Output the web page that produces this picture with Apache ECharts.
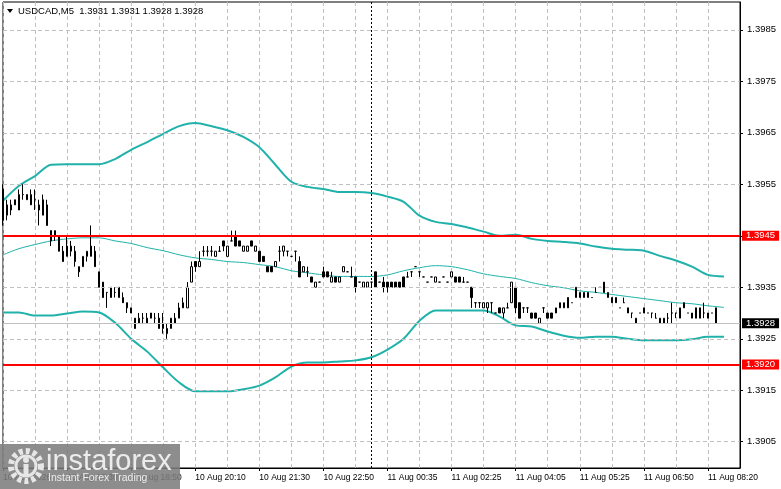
<!DOCTYPE html>
<html>
<head>
<meta charset="utf-8">
<title>USDCAD,M5</title>
<script src="https://cdn.jsdelivr.net/npm/echarts@6/dist/echarts.min.js"></script>
<style>
html, body { margin: 0; padding: 0; background: #fff; }
#chart { width: 781px; height: 489px; }
</style>
</head>
<body>
<div id="chart"></div>
<script>
// USDCAD M5 bars (4 digit quotes)
const openP = [
  1.3954,1.3949,1.3950,1.3951,1.3950,1.3953,1.3953,1.3951,1.3952,1.3951,
  1.3949,1.3951,1.3946,1.3945,1.3945,1.3942,1.3941,1.3942,1.3942,1.3939,
  1.3939,1.3941,1.3941,1.3942,1.3938,1.3936,1.3934,1.3933,1.3934,1.3933,
  1.3933,1.3932,1.3931,1.3929,1.3928,1.3929,1.3928,1.3930,1.3929,1.3929,
  1.3927,1.3927,1.3927,1.3928,1.3929,1.3931,1.3931,1.3936,1.3940,1.3939,
  1.3942,1.3942,1.3942,1.3941,1.3942,1.3944,1.3941,1.3944,1.3945,1.3944,
  1.3942,1.3942,1.3944,1.3942,1.3942,1.3941,1.3939,1.3939,1.3939,1.3942,
  1.3942,1.3942,1.3941,1.3942,1.3940,1.3938,1.3938,1.3937,1.3935,1.3936,
  1.3938,1.3938,1.3936,1.3937,1.3936,1.3938,1.3938,1.3937,1.3937,1.3936,
  1.3935,1.3935,1.3936,1.3938,1.3936,1.3936,1.3936,1.3936,1.3936,1.3936,
  1.3937,1.3937,1.3938,1.3939,1.3938,1.3937,1.3936,1.3937,1.3936,1.3936,
  1.3937,1.3936,1.3937,1.3937,1.3937,1.3936,1.3936,1.3935,1.3932,1.3932,
  1.3931,1.3931,1.3932,1.3930,1.3931,1.3930,1.3931,1.3932,1.3935,1.3932,
  1.3931,1.3931,1.3930,1.3930,1.3928,1.3931,1.3930,1.3930,1.3930,1.3931,
  1.3931,1.3933,1.3932,1.3933,1.3933,1.3933,1.3933,1.3933,1.3934,1.3935,
  1.3936,1.3933,1.3933,1.3933,1.3931,1.3932,1.3931,1.3930,1.3928,1.3930,
  1.3931,1.3930,1.3930,1.3929,1.3928,1.3928,1.3929,1.3930,1.3930,1.3929,
  1.3932,1.3930,1.3929,1.3931,1.3931,1.3930,1.3930,1.3930,1.3931
];
const highP = [
  1.3955,1.3952,1.3952,1.3952,1.3954,1.3955,1.3953,1.3954,1.3954,1.3952,
  1.3953,1.3952,1.3946,1.3946,1.3945,1.3943,1.3945,1.3944,1.3943,1.3939,
  1.3941,1.3942,1.3947,1.3943,1.3938,1.3936,1.3934,1.3935,1.3935,1.3935,
  1.3934,1.3932,1.3931,1.3929,1.3930,1.3930,1.3930,1.3930,1.3930,1.3930,
  1.3930,1.3928,1.3929,1.3930,1.3932,1.3933,1.3936,1.3940,1.3940,1.3942,
  1.3943,1.3943,1.3943,1.3942,1.3943,1.3944,1.3943,1.3946,1.3946,1.3944,
  1.3943,1.3943,1.3944,1.3943,1.3942,1.3941,1.3939,1.3939,1.3940,1.3943,
  1.3943,1.3942,1.3941,1.3942,1.3941,1.3939,1.3939,1.3937,1.3936,1.3936,
  1.3939,1.3938,1.3938,1.3937,1.3937,1.3939,1.3938,1.3939,1.3937,1.3936,
  1.3936,1.3936,1.3936,1.3938,1.3936,1.3937,1.3936,1.3936,1.3936,1.3936,
  1.3937,1.3938,1.3938,1.3939,1.3938,1.3937,1.3936,1.3937,1.3937,1.3936,
  1.3937,1.3936,1.3938,1.3937,1.3937,1.3937,1.3936,1.3935,1.3932,1.3932,
  1.3932,1.3932,1.3932,1.3930,1.3931,1.3931,1.3932,1.3936,1.3935,1.3932,
  1.3931,1.3931,1.3930,1.3930,1.3929,1.3931,1.3930,1.3930,1.3931,1.3932,
  1.3932,1.3933,1.3932,1.3935,1.3934,1.3934,1.3934,1.3933,1.3935,1.3935,
  1.3936,1.3934,1.3933,1.3933,1.3931,1.3933,1.3931,1.3930,1.3929,1.3930,
  1.3931,1.3930,1.3930,1.3930,1.3929,1.3929,1.3930,1.3932,1.3930,1.3931,
  1.3932,1.3930,1.3930,1.3931,1.3931,1.3932,1.3930,1.3930,1.3931
];
const lowP = [
  1.3947,1.3948,1.3949,1.3951,1.3950,1.3952,1.3952,1.3951,1.3950,1.3947,
  1.3949,1.3947,1.3943,1.3944,1.3942,1.3940,1.3941,1.3941,1.3939,1.3937,
  1.3939,1.3940,1.3941,1.3939,1.3935,1.3933,1.3931,1.3933,1.3933,1.3933,
  1.3932,1.3930,1.3930,1.3927,1.3928,1.3928,1.3928,1.3929,1.3928,1.3927,
  1.3926,1.3925,1.3927,1.3928,1.3929,1.3931,1.3931,1.3936,1.3938,1.3939,
  1.3941,1.3941,1.3941,1.3941,1.3942,1.3942,1.3941,1.3944,1.3943,1.3943,
  1.3942,1.3942,1.3943,1.3942,1.3940,1.3940,1.3938,1.3938,1.3939,1.3940,
  1.3941,1.3941,1.3941,1.3940,1.3937,1.3938,1.3937,1.3936,1.3935,1.3936,
  1.3937,1.3937,1.3936,1.3936,1.3936,1.3938,1.3938,1.3937,1.3934,1.3936,
  1.3935,1.3935,1.3935,1.3935,1.3936,1.3934,1.3934,1.3935,1.3935,1.3935,
  1.3935,1.3937,1.3937,1.3939,1.3937,1.3937,1.3936,1.3937,1.3936,1.3936,
  1.3937,1.3936,1.3937,1.3936,1.3936,1.3936,1.3936,1.3931,1.3931,1.3931,
  1.3931,1.3930,1.3930,1.3930,1.3930,1.3929,1.3931,1.3932,1.3930,1.3929,
  1.3930,1.3930,1.3929,1.3929,1.3928,1.3930,1.3929,1.3929,1.3930,1.3931,
  1.3931,1.3931,1.3932,1.3933,1.3933,1.3933,1.3933,1.3933,1.3934,1.3935,
  1.3934,1.3933,1.3932,1.3932,1.3931,1.3932,1.3930,1.3929,1.3928,1.3930,
  1.3930,1.3930,1.3929,1.3929,1.3928,1.3928,1.3928,1.3928,1.3929,1.3929,
  1.3931,1.3930,1.3929,1.3929,1.3929,1.3929,1.3929,1.3930,1.3928
];
const closeP = [
  1.3948,1.3951,1.3951,1.3952,1.3953,1.3953,1.3952,1.3953,1.3952,1.3950,
  1.3952,1.3947,1.3944,1.3946,1.3942,1.3940,1.3943,1.3943,1.3940,1.3938,
  1.3941,1.3942,1.3943,1.3939,1.3935,1.3933,1.3934,1.3935,1.3934,1.3935,
  1.3932,1.3931,1.3930,1.3927,1.3929,1.3929,1.3929,1.3929,1.3929,1.3927,
  1.3928,1.3926,1.3929,1.3929,1.3931,1.3932,1.3935,1.3939,1.3939,1.3940,
  1.3942,1.3942,1.3942,1.3942,1.3942,1.3943,1.3943,1.3944,1.3943,1.3943,
  1.3943,1.3943,1.3943,1.3943,1.3940,1.3940,1.3938,1.3938,1.3940,1.3942,
  1.3943,1.3942,1.3941,1.3942,1.3937,1.3939,1.3938,1.3936,1.3936,1.3936,
  1.3937,1.3937,1.3937,1.3936,1.3937,1.3939,1.3938,1.3937,1.3935,1.3936,
  1.3936,1.3936,1.3936,1.3935,1.3936,1.3935,1.3935,1.3935,1.3935,1.3935,
  1.3935,1.3937,1.3938,1.3939,1.3938,1.3937,1.3936,1.3937,1.3937,1.3936,
  1.3937,1.3936,1.3938,1.3936,1.3936,1.3936,1.3936,1.3933,1.3932,1.3932,
  1.3932,1.3932,1.3932,1.3930,1.3930,1.3931,1.3931,1.3936,1.3931,1.3929,
  1.3931,1.3931,1.3929,1.3929,1.3929,1.3931,1.3929,1.3929,1.3931,1.3932,
  1.3932,1.3931,1.3932,1.3935,1.3934,1.3934,1.3934,1.3933,1.3934,1.3935,
  1.3934,1.3934,1.3932,1.3932,1.3931,1.3932,1.3930,1.3930,1.3929,1.3930,
  1.3930,1.3930,1.3930,1.3929,1.3929,1.3929,1.3929,1.3930,1.3930,1.3931,
  1.3931,1.3930,1.3930,1.3929,1.3929,1.3930,1.3929,1.3930,1.3928
];

// bollinger bands, read every 4th bar
const bandIdx = [0,4,8,12,16,20,24,28,32,36,40,44,48,52,56,60,64,68,72,76,80,84,88,92,
  96,100,104,108,112,116,120,124,128,132,136,140,144,148,152,156,160,164,168,172,176,180];
const upperBand = [1.39518,1.39547,1.39566,1.39588,1.39589,1.39589,1.39589,1.39599,1.39617,1.39632,
  1.39648,1.39663,1.39669,1.39663,1.39655,1.39642,1.39622,1.39588,1.39555,1.39545,
  1.39541,1.39535,1.39535,1.39533,1.39526,1.39516,1.39489,1.39477,1.39473,1.39466,
  1.39458,1.39450,1.39452,1.39444,1.39440,1.39438,1.39435,1.39429,1.39425,1.39423,
  1.39421,1.39411,1.39402,1.39390,1.39374,1.39371];
const middleBand = [1.39413,1.39425,1.39433,1.39440,1.39444,1.39446,1.39446,1.39440,1.39435,1.39427,
  1.39421,1.39413,1.39407,1.39404,1.39400,1.39398,1.39394,1.39390,1.39382,1.39378,
  1.39374,1.39371,1.39371,1.39371,1.39374,1.39382,1.39388,1.39392,1.39390,1.39384,
  1.39376,1.39371,1.39367,1.39359,1.39353,1.39349,1.39343,1.39340,1.39336,1.39332,
  1.39328,1.39324,1.39320,1.39318,1.39314,1.39311];
const lowerBand = [1.39301,1.39301,1.39295,1.39295,1.39299,1.39303,1.39301,1.39281,1.39250,1.39225,
  1.39194,1.39165,1.39148,1.39148,1.39148,1.39152,1.39159,1.39175,1.39196,1.39204,
  1.39204,1.39206,1.39208,1.39214,1.39229,1.39250,1.39285,1.39305,1.39305,1.39305,
  1.39305,1.39293,1.39276,1.39274,1.39264,1.39256,1.39252,1.39254,1.39254,1.39250,
  1.39247,1.39247,1.39247,1.39249,1.39254,1.39254];

const yTicks = [1.3905, 1.3915, 1.3925, 1.3935, 1.3945, 1.3955, 1.3965, 1.3975, 1.3985];
const timeLabels = ['10 Aug 2026', '10 Aug 17:30', '10 Aug 18:50', '10 Aug 20:10', '10 Aug 21:30', '10 Aug 22:50',
  '11 Aug 00:35', '11 Aug 02:25', '11 Aug 04:05', '11 Aug 05:25', '11 Aug 06:50', '11 Aug 08:20'];
const levelLines = [1.3945, 1.3920];
const markBar = 92;
const slotCount = 185;

const font = 'Liberation Sans, Arial, sans-serif';
const teal = '#20b2aa';
const slots = Array.from({length: slotCount}, (_, i) => String(i));
const candles = openP.map((o, i) => [o, closeP[i], lowP[i], highP[i]]);
const band = arr => arr.map((v, k) => [bandIdx[k], v]);
const last = openP.length - 1;
const headText = 'USDCAD,M5  ' + [openP[last], highP[last], lowP[last], closeP[last]].map(v => v.toFixed(4)).join(' ');

// markers need a series with data to sit on; these carry no visible line
function hostSeries(z, markLine){
    markLine.precision = 5;
    return {
        type: 'line', data: band(middleBand), z: z, silent: true,
        showSymbol: false, lineStyle: { opacity: 0 }, markLine: markLine
    };
}
function priceLabel(bg){
    return {
        show: true, position: 'end', distance: 2, color: '#fff', backgroundColor: bg,
        padding: [1, 4, 0, 4], fontSize: 9.5, lineHeight: 9, fontFamily: font,
        formatter: p => p.value.toFixed(4)
    };
}

let myChart = echarts.init(document.getElementById('chart'));
let option = {
    animation: false,
    backgroundColor: '#fff',
    textStyle: { fontFamily: font },
    grid: {
        left: 3, right: 41, top: 2, bottom: 21,
        show: true, borderColor: '#000', borderWidth: 1
    },
    xAxis: {
        type: 'category',
        data: slots,
        boundaryGap: false,
        axisLine: { lineStyle: { color: '#000', width: 1 } },
        axisTick: { show: true, interval: 15, length: 3, lineStyle: { color: '#000' } },
        axisLabel: {
            interval: 15, align: 'left', margin: 5, color: '#000',
            fontSize: 8.5, fontFamily: font,
            formatter: (v, i) => timeLabels[i / 16] || ''
        },
        splitLine: { show: true, interval: 7, lineStyle: { color: '#c0c0c0', type: [4, 3], width: 1 } }
    },
    yAxis: {
        type: 'value',
        position: 'right',
        min: 1.38999,
        max: 1.39904,
        axisLine: { show: true, lineStyle: { color: '#000', width: 1 } },
        axisTick: { show: true, length: 3, customValues: yTicks, lineStyle: { color: '#000' } },
        axisLabel: {
            customValues: yTicks, margin: 7, color: '#000', fontSize: 9.5, fontFamily: font,
            formatter: v => v.toFixed(4)
        },
        splitLine: { show: false }
    },
    series: [
        // horizontal grid
        hostSeries(1, {
            silent: true, symbol: 'none', label: { show: false },
            lineStyle: { color: '#c0c0c0', type: [4, 3], width: 1 },
            data: yTicks.map(v => ({ yAxis: v }))
        }),
        {
            name: 'upper', type: 'line', data: band(upperBand), z: 2, smooth: 0.3,
            showSymbol: false, silent: true, lineStyle: { color: teal, width: 2 }
        },
        {
            name: 'middle', type: 'line', data: band(middleBand), z: 2, smooth: 0.3,
            showSymbol: false, silent: true, lineStyle: { color: teal, width: 1 }
        },
        {
            name: 'lower', type: 'line', data: band(lowerBand), z: 2, smooth: 0.3,
            showSymbol: false, silent: true, lineStyle: { color: teal, width: 2 }
        },
        // current price line under the candles
        hostSeries(2, {
            silent: true, symbol: 'none',
            data: [
                { yAxis: closeP[last], lineStyle: { color: '#c0c0c0', type: 'solid', width: 1 }, label: priceLabel('#000') },
                { xAxis: markBar, lineStyle: { color: '#000', type: [2, 2], width: 1 }, label: { show: false } }
            ]
        }),
        {
            name: 'USDCAD', type: 'candlestick', data: candles, z: 3, barWidth: 2,
            silent: true,
            itemStyle: { color: '#fff', color0: '#000', borderColor: '#000', borderColor0: '#000', borderWidth: 1 }
        },
        // support / resistance levels
        hostSeries(5, {
            silent: true, symbol: 'none',
            lineStyle: { color: '#ff0000', type: 'solid', width: 2 },
            label: priceLabel('#ff0000'),
            data: levelLines.map(v => ({ yAxis: v }))
        })
    ],
    graphic: [
        { type: 'polygon', shape: { points: [[7, 9], [13, 9], [10, 13]] }, style: { fill: '#000' }, z: 10 },
        {
            type: 'text', z: 10,
            style: { x: 18, y: 11, text: headText, fill: '#000', font: '9.5px ' + font, textVerticalAlign: 'middle' }
        },
        // instaforex watermark
        { type: 'rect', shape: { x: 0, y: 444, width: 180, height: 45 }, style: { fill: 'rgba(125,125,125,0.88)' }, z: 20 },
        { type: 'circle', shape: { cx: 26, cy: 466, r: 15 }, style: { fill: 'none', stroke: '#e6e6e6', lineWidth: 6, lineDash: [4, 3] }, z: 21 },
        { type: 'circle', shape: { cx: 26, cy: 466, r: 10 }, style: { fill: 'none', stroke: '#e6e6e6', lineWidth: 3 }, z: 21 },
        { type: 'circle', shape: { cx: 26, cy: 460, r: 3 }, style: { fill: '#e6e6e6' }, z: 21 },
        { type: 'rect', shape: { x: 23.5, y: 464, width: 5, height: 12 }, style: { fill: '#e6e6e6' }, z: 21 },
        {
            type: 'text', z: 21,
            style: { x: 46, y: 462, text: 'instaforex', fill: '#ececec', font: '29px ' + font, textVerticalAlign: 'middle' }
        },
        {
            type: 'text', z: 21,
            style: { x: 48, y: 478, text: 'Instant Forex Trading', fill: '#ececec', font: '10.5px ' + font, textVerticalAlign: 'middle' }
        }
    ]
};
myChart.setOption(option);
</script>
</body>
</html>
